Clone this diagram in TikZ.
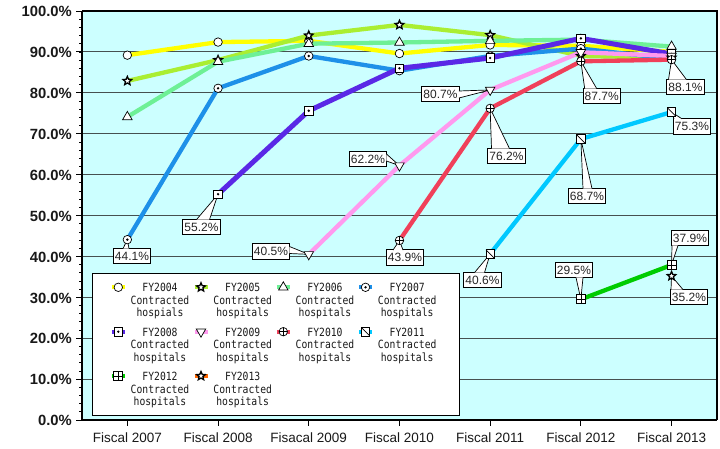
\documentclass[tikz,border=0pt]{standalone}
\usepackage{fontspec}
\setmainfont{Liberation Sans}
\newfontfamily\monof[FakeStretch=0.86]{DejaVu Sans Mono}
\usetikzlibrary{shapes.geometric,calc}

\definecolor{plotbg}{RGB}{204,255,255}
\definecolor{gridc}{RGB}{70,80,80}
\definecolor{c04}{RGB}{255,255,0}
\definecolor{c05}{RGB}{170,238,50}
\definecolor{c06}{RGB}{110,240,150}
\definecolor{c07}{RGB}{30,144,232}
\definecolor{c08}{RGB}{90,40,230}
\definecolor{c09}{RGB}{255,153,238}
\definecolor{c10}{RGB}{240,64,90}
\definecolor{c11}{RGB}{0,200,255}
\definecolor{c12}{RGB}{0,204,0}
\definecolor{c13}{RGB}{255,102,0}

\tikzset{
  mkbase/.style={draw=black, fill=white, line width=0.7pt, inner sep=0pt},
  m04/.style={mkbase, circle, minimum size=8.5pt},
  m05/.style={mkbase, star, star points=5, star point ratio=2.2, minimum size=9pt, line width=1.3pt},
  m06/.style={mkbase, regular polygon, regular polygon sides=3, minimum size=11pt},
  m07/.style={mkbase, circle, minimum size=8.5pt,
     path picture={\fill[black] (path picture bounding box.center) circle (1.3pt);}},
  m08/.style={mkbase, rectangle, minimum size=8.5pt,
     path picture={\fill[black] (path picture bounding box.center) circle (1.3pt);}},
  m09/.style={mkbase, regular polygon, regular polygon sides=3, shape border rotate=180, minimum size=11pt},
  m10/.style={mkbase, circle, minimum size=8.5pt,
     path picture={\draw[line width=0.7pt] (path picture bounding box.north) -- (path picture bounding box.south)
        (path picture bounding box.west) -- (path picture bounding box.east);}},
  m11/.style={mkbase, rectangle, minimum size=8.5pt,
     path picture={\draw[line width=0.7pt] (path picture bounding box.north west) -- (path picture bounding box.south east);}},
  m12/.style={mkbase, rectangle, minimum size=9pt,
     path picture={\draw[line width=0.7pt] (path picture bounding box.north) -- (path picture bounding box.south)
        (path picture bounding box.west) -- (path picture bounding box.east);}},
  m13/.style={m05},
  sl/.style={line width=4.3pt, line join=round},
  grid/.style={draw=gridc, line width=0.8pt},
  ylab/.style={anchor=base east, inner sep=0pt, font=\fontsize{14.8}{16}\selectfont\bfseries, text=black!90},
  xlab/.style={anchor=base, inner sep=0pt, font=\fontsize{13.5}{15}\selectfont, text=black!90},
  lbl/.style={draw=black, fill=white, line width=0.7pt, font=\fontsize{12}{14}\selectfont, text=black!85,
     inner xsep=1.8pt, inner ysep=0pt, minimum height=15.5pt},
  legtxt/.style={anchor=north, inner sep=0pt, align=center, font=\monof\fontsize{11.3}{12.5}\selectfont, text=black!90},
}

\newcommand\callout[7]{%
  \node[lbl] (#1) at (#2) {#3};
  \fill[white] ($(#1.#5)+(#6)$) -- (#4) -- ($(#1.#5)+(#7)$) -- cycle;
  \draw[line width=0.7pt] ($(#1.#5)+(#6)$) -- (#4) -- ($(#1.#5)+(#7)$);
}
\newcommand\legent[6]{%
  \draw[#5, line width=4pt] ({#2-6.5},#3) -- ({#2+6.5},#3);
  \node[#4] (lm#1) at (#2,#3) {};
  \node[legtxt] (lt#1) at ({#2+41.7},{#3-4}) {FY20#1\\Contracted\\#6};
}

\begin{document}
\begin{tikzpicture}[x=1pt,y=-1pt]
\fill[white] (0,0) rectangle (720,449);
\useasboundingbox (0,0) rectangle (720,449);
% plot area
\fill[plotbg] (82,11) rectangle (717,420);
\foreach \v in {10,20,...,90}
  \draw[grid] (82,{420-4.09*\v}) -- (717,{420-4.09*\v});
% axes and ticks
\foreach \v in {0,10,...,100}{
  \draw[line width=0.9pt] (76,{420-4.09*\v}) -- (82,{420-4.09*\v});
  \node[ylab] (y\v) at (72,{420-4.09*\v+5.7}) {\v.0\%};
}
\foreach \v in {2,4,...,98}
  \draw[line width=0.7pt] (79,{420-4.09*\v}) -- (82,{420-4.09*\v});
\foreach \i/\t in {0/Fiscal 2007,1/Fiscal 2008,2/Fisacal 2009,3/Fiscal 2010,4/Fiscal 2011,5/Fiscal 2012,6/Fiscal 2013}{
  \draw[line width=0.9pt] ({127.35+90.7*\i},420) -- ({127.35+90.7*\i},426);
  \node[xlab] (x\i) at ({127.35+90.7*\i},442.7) {\t};
}
\draw[line width=1.6pt] (82,11) -- (717,11) -- (717,420);
\draw[line width=1.2pt] (82,11) -- (82,420) -- (717,420);

% legend
\node[draw=black, fill=white, line width=0.9pt, minimum width=367pt, minimum height=142pt,
      anchor=north west, inner sep=0pt] (legend) at (92,273) {};
\legent{04}{118.3}{287.3}{m04}{c04}{hospials}
\legent{05}{201}{287.3}{m05}{c05}{hospitals}
\legent{06}{283.3}{287.3}{m06}{c06}{hospitals}
\legent{07}{365.5}{287.3}{m07}{c07}{hospitals}
\legent{08}{118.3}{331.7}{m08}{c08}{hospitals}
\legent{09}{201}{331.7}{m09}{c09}{hospitals}
\legent{10}{283.3}{331.7}{m10}{c10}{hospitals}
\legent{11}{365.5}{331.7}{m11}{c11}{hospitals}
\legent{12}{118.3}{376}{m12}{c12}{hospitals}
\legent{13}{201}{376}{m13}{c13}{hospitals}

% data points
\foreach \i/\v in {0/89.2,1/92.4,2/92.7,3/89.6,4/91.7,5/91.5,6/90.0}
  \coordinate (p04-\i) at ({127.35+90.7*\i},{420-4.09*\v});
\foreach \i/\v in {0/82.9,1/88.0,2/94.0,3/96.6,4/94.1,5/89.0,6/88.6}
  \coordinate (p05-\i) at ({127.35+90.7*\i},{420-4.09*\v});
\foreach \i/\v in {0/74.1,1/87.6,2/92.0,3/92.3,4/92.7,5/93.0,6/91.3}
  \coordinate (p06-\i) at ({127.35+90.7*\i},{420-4.09*\v});
\foreach \i/\v in {0/44.1,1/81.1,2/89.0,3/85.4,4/89.0,5/90.8,6/88.3}
  \coordinate (p07-\i) at ({127.35+90.7*\i},{420-4.09*\v});
\foreach \i/\v in {1/55.2,2/75.6,3/86.0,4/88.5,5/93.3,6/89.5}
  \coordinate (p08-\i) at ({127.35+90.7*\i},{420-4.09*\v});
\foreach \i/\v in {2/40.5,3/62.2,4/80.7,5/89.9,6/89.0}
  \coordinate (p09-\i) at ({127.35+90.7*\i},{420-4.09*\v});
\foreach \i/\v in {3/43.9,4/76.2,5/87.7,6/88.1}
  \coordinate (p10-\i) at ({127.35+90.7*\i},{420-4.09*\v});
\foreach \i/\v in {4/40.6,5/68.7,6/75.3}
  \coordinate (p11-\i) at ({127.35+90.7*\i},{420-4.09*\v});
\foreach \i/\v in {5/29.5,6/37.9}
  \coordinate (p12-\i) at ({127.35+90.7*\i},{420-4.09*\v});
\coordinate (p13-6) at ({127.35+90.7*6},{420-4.09*35.2});

% series lines
\draw[sl,c04] (p04-0) -- (p04-1) -- (p04-2) -- (p04-3) -- (p04-4) -- (p04-5) -- (p04-6);
\draw[sl,c05] (p05-0) -- (p05-1) -- (p05-2) -- (p05-3) -- (p05-4) -- (p05-5) -- (p05-6);
\draw[sl,c06] (p06-0) -- (p06-1) -- (p06-2) -- (p06-3) -- (p06-4) -- (p06-5) -- (p06-6);
\draw[sl,c07] (p07-0) -- (p07-1) -- (p07-2) -- (p07-3) -- (p07-4) -- (p07-5) -- (p07-6);
\draw[sl,c08,line width=5pt] (p08-1) -- (p08-2) -- (p08-3) -- (p08-4) -- (p08-5) -- (p08-6);
\draw[sl,c09] (p09-2) -- (p09-3) -- (p09-4) -- (p09-5) -- (p09-6);
\draw[sl,c10] (p10-3) -- (p10-4) -- (p10-5) -- (p10-6);
\draw[sl,c11] (p11-4) -- (p11-5) -- (p11-6);
\draw[sl,c12] (p12-5) -- (p12-6);

% data labels with callouts
\callout{L1}{132,256}{44.1\%}{p07-0}{north}{-9,0.7}{-3,0.7}
\callout{L2}{201.5,227}{55.2\%}{p08-1}{north}{-5,0.7}{8,0.7}
\callout{L3}{271,251.5}{40.5\%}{p09-2}{east}{-0.7,-5}{-0.7,2}
\callout{L4}{368,159}{62.2\%}{p09-3}{east}{-0.7,-5}{-0.7,2}
\callout{L5}{405,257.5}{43.9\%}{p10-3}{north}{-12,0.7}{-2,0.7}
\callout{L6}{440.5,94}{80.7\%}{p09-4}{east}{-0.7,-3}{-0.7,4}
\callout{L7}{506.5,156}{76.2\%}{p10-4}{north}{-15,0.7}{3,0.7}
\callout{L8}{482.5,280}{40.6\%}{p11-4}{north}{-8,0.7}{2,0.7}
\callout{L9}{601.7,96}{87.7\%}{p10-5}{north}{-17,0.7}{-5,0.7}
\callout{L10}{587,196}{68.7\%}{p11-5}{north}{-4,0.7}{5,0.7}
\callout{L11}{574,270}{29.5\%}{p12-5}{south}{2,-0.7}{9,-0.7}
\callout{L12}{685.5,87}{88.1\%}{p10-6}{north}{-17,0.7}{1,0.7}
\callout{L13}{692,126.3}{75.3\%}{p11-6}{north}{-18,0.7}{-10,0.7}
\callout{L14}{690,238}{37.9\%}{p12-6}{south}{-18,-0.7}{-12,-0.7}
\callout{L15}{689,297}{35.2\%}{p13-6}{north}{-18,0.7}{-6,0.7}

% markers
\foreach \i in {0,...,6} \node[m04] (n04-\i) at (p04-\i) {};
\foreach \i in {0,...,6} \node[m05] (n05-\i) at (p05-\i) {};
\foreach \i in {0,...,6} \node[m06] (n06-\i) at (p06-\i) {};
\foreach \i in {0,...,6} \node[m07] (n07-\i) at (p07-\i) {};
\foreach \i in {1,...,6} \node[m08] (n08-\i) at (p08-\i) {};
\foreach \i in {2,...,6} \node[m09] (n09-\i) at (p09-\i) {};
\foreach \i in {3,...,6} \node[m10] (n10-\i) at (p10-\i) {};
\foreach \i in {4,...,6} \node[m11] (n11-\i) at (p11-\i) {};
\foreach \i in {5,6} \node[m12] (n12-\i) at (p12-\i) {};
\node[m13] (n13-6) at (p13-6) {};
\end{tikzpicture}
\end{document}
